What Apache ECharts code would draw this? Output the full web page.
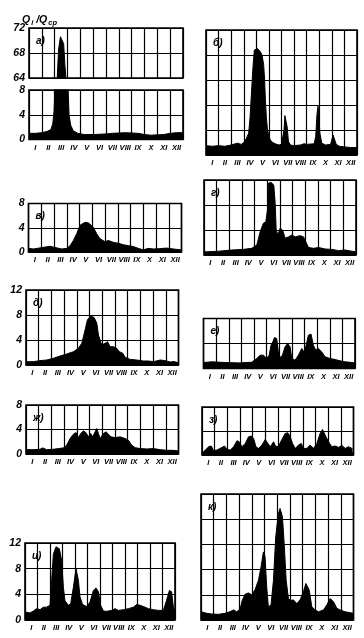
<!DOCTYPE html>
<html><head><meta charset="utf-8">
<script src="https://cdn.jsdelivr.net/npm/echarts@6/dist/echarts.min.js"></script>
<style>html,body{margin:0;padding:0;background:#fff}#c{width:364px;height:638px}</style>
</head><body><div id="c"></div>
<script>
const months = ['I','II','III','IV','V','VI','VII','VIII','IX','X','XI','XII'];
const letters = ['а)','б)','в)','г)','д)','е)','ж)','з)','и)','к)'];

// [month position (0..12), Qi/Qcp]
const dataA = [[0,1.0],[0.5,1.0],[1.0,1.1],[1.4,1.3],[1.7,1.6],[1.85,2.5],[1.95,4.5],[2.02,8],[2.12,30],[2.2,64],[2.3,68.5],[2.45,70.6],[2.6,70.8],[2.7,69.5],[2.8,66],[2.88,64],[2.96,30],[3.05,8],[3.12,4],[3.25,2.3],[3.45,1.4],[3.8,1.0],[4.3,0.8],[5,0.8],[5.5,0.85],[6,0.9],[6.5,1.0],[7,1.05],[7.5,1.1],[8,1.05],[8.5,1.0],[9,0.8],[9.5,0.7],[10,0.75],[10.5,0.8],[11,1.0],[11.5,1.1],[12,1.1]];
const dataB = [[0,1.5],[0.5,1.4],[1,1.5],[1.5,1.4],[2,1.6],[2.5,1.9],[2.8,1.7],[3.0,2.0],[3.2,2.6],[3.39,3.5],[3.5,6],[3.58,8.8],[3.73,14],[3.84,16.8],[3.97,17.1],[4.1,17.0],[4.3,16.6],[4.45,16.0],[4.58,14.5],[4.66,12],[4.72,8.8],[4.8,6],[4.88,4.2],[5.0,3.0],[5.11,2.4],[5.3,2.0],[5.5,1.8],[5.8,1.6],[6.0,1.7],[6.1,1.8],[6.2,4],[6.27,6.3],[6.35,6.4],[6.45,4.5],[6.55,2.2],[6.7,1.6],[7.0,1.5],[7.5,1.6],[7.8,1.8],[8.0,1.7],[8.6,1.8],[8.72,3],[8.82,6.5],[8.9,7.8],[8.97,6.5],[9.05,3.5],[9.2,1.9],[9.5,1.6],[9.9,1.7],[10.0,2.0],[10.1,3.2],[10.2,3.0],[10.35,1.7],[10.6,1.4],[11,1.3],[11.5,1.2],[12,1.2]];
const dataV = [[0,0.6],[0.39,0.5],[0.97,0.7],[1.7,0.95],[1.96,0.8],[2.61,0.5],[3.0,0.6],[3.26,1.05],[3.52,1.9],[3.78,3.0],[4.04,4.4],[4.43,4.9],[4.7,4.8],[5.09,4.1],[5.35,3.0],[5.61,2.2],[6.0,1.7],[6.26,1.9],[6.65,1.6],[7.04,1.45],[7.44,1.2],[7.83,1.05],[8.22,0.9],[8.61,0.6],[9.0,0.35],[9.39,0.6],[9.78,0.5],[10.3,0.55],[10.83,0.65],[11.35,0.5],[12,0.35]];
const dataG = [[0,0.5],[1.13,0.6],[2.19,0.8],[3.11,0.9],[3.77,1.07],[4.17,1.6],[4.43,3.7],[4.69,5.1],[4.88,5.3],[5.01,7.2],[5.09,11.5],[5.3,11.6],[5.51,11.2],[5.62,8.3],[5.7,4.0],[5.83,3.2],[6.01,4.3],[6.2,4.0],[6.41,2.7],[6.67,2.9],[6.94,3.2],[7.2,2.9],[7.59,3.1],[7.86,2.9],[8.04,2.1],[8.25,1.2],[8.65,1.07],[9.05,1.2],[9.57,0.96],[10.1,0.9],[10.63,0.7],[11.15,0.8],[11.55,0.65],[12,0.5]];
const dataD = [[0,0.53],[0.58,0.53],[1.1,0.7],[1.63,0.8],[2.15,1.07],[2.68,1.44],[3.2,1.76],[3.73,2.13],[4.12,2.67],[4.39,3.47],[4.65,5.6],[4.83,7.2],[5.09,7.84],[5.36,7.6],[5.57,6.7],[5.7,4.8],[5.96,3.2],[6.22,3.47],[6.41,3.73],[6.62,2.93],[6.88,2.93],[7.14,2.67],[7.35,2.13],[7.62,1.87],[7.8,1.23],[8.19,0.9],[8.72,0.8],[9.24,0.64],[9.64,0.64],[10.03,0.53],[10.56,0.8],[10.95,0.7],[11.34,0.48],[11.61,0.55],[12,0.37]];
const dataE = [[0,0.96],[0.66,1.07],[1.71,0.96],[2.77,0.9],[3.82,1.0],[4.22,1.6],[4.48,2.13],[4.75,2.13],[5.01,1.6],[5.2,2.13],[5.35,3.73],[5.49,4.27],[5.62,4.96],[5.8,4.8],[5.93,2.67],[6.07,1.76],[6.25,2.13],[6.46,3.47],[6.67,4.0],[6.86,3.47],[6.99,1.6],[7.25,1.33],[7.52,2.13],[7.78,3.2],[7.96,2.67],[8.1,3.47],[8.31,5.33],[8.52,5.5],[8.7,3.73],[8.89,2.93],[9.1,3.2],[9.36,2.67],[9.63,1.87],[10.02,1.6],[10.42,1.44],[10.81,1.23],[11.21,1.07],[11.6,1.0],[12,0.9]];
const dataZh = [[0,0.71],[0.58,0.71],[1.1,0.77],[1.31,1.0],[1.63,0.71],[2.15,0.77],[2.55,0.88],[2.94,1.0],[3.2,1.42],[3.47,2.52],[3.73,3.23],[3.94,3.5],[4.12,2.68],[4.31,3.34],[4.52,3.78],[4.73,3.45],[4.91,2.8],[5.09,3.34],[5.25,2.8],[5.44,3.62],[5.57,4.16],[5.7,3.34],[5.83,2.52],[6.09,3.34],[6.3,3.62],[6.49,3.23],[6.67,2.8],[7.01,2.68],[7.41,2.8],[7.8,2.52],[8.06,2.25],[8.32,1.42],[8.59,1.04],[8.98,0.88],[9.51,0.82],[10.03,0.88],[10.56,0.71],[11.08,0.6],[11.61,0.6],[12,0.49]];
const dataZ = [[0,0.28],[0.26,0.83],[0.53,1.38],[0.74,1.49],[0.92,0.72],[1.19,0.83],[1.58,1.27],[1.79,1.49],[1.98,0.94],[2.24,0.83],[2.51,1.38],[2.77,2.38],[2.95,2.2],[3.16,1.38],[3.43,1.93],[3.69,3.04],[3.9,3.15],[4.09,2.76],[4.27,1.38],[4.48,1.1],[4.75,1.66],[5.01,2.6],[5.22,1.93],[5.41,1.38],[5.67,2.2],[5.85,1.38],[6.07,1.49],[6.33,2.6],[6.59,3.6],[6.8,3.7],[6.99,3.04],[7.17,1.93],[7.38,1.1],[7.65,1.66],[7.86,1.93],[8.04,1.1],[8.31,1.1],[8.57,1.66],[8.83,1.1],[9.1,1.93],[9.36,3.6],[9.55,4.25],[9.76,3.3],[10.02,2.2],[10.28,1.38],[10.55,1.49],[10.81,1.27],[11.08,1.6],[11.34,1.1],[11.6,1.38],[11.87,1.1],[12,0.83]];
const dataI = [[0,1.25],[0.4,1.1],[0.67,1.4],[0.93,1.77],[1.2,1.6],[1.47,2.0],[1.73,2.0],[2.0,2.3],[2.13,6.2],[2.27,10.3],[2.48,11.4],[2.75,11.1],[2.93,9.3],[3.07,5.1],[3.2,3.0],[3.47,2.3],[3.65,2.5],[3.87,5.1],[4.08,8.0],[4.27,6.2],[4.4,3.6],[4.61,2.4],[4.93,2.1],[5.2,2.8],[5.47,4.6],[5.68,5.0],[5.87,4.4],[6.05,2.3],[6.27,1.4],[6.53,1.35],[6.93,1.5],[7.2,1.77],[7.47,1.5],[7.87,1.6],[8.27,1.77],[8.67,2.0],[8.93,2.4],[9.2,2.3],[9.47,2.1],[9.87,1.77],[10.27,1.6],[10.67,1.5],[11.07,1.5],[11.33,3.1],[11.55,4.6],[11.73,4.4],[11.87,2.0],[12,1.25]];
const dataK = [[0,1.32],[0.45,1.06],[0.84,0.95],[1.37,0.9],[1.89,1.06],[2.28,1.32],[2.55,1.6],[2.81,1.32],[3.07,1.7],[3.26,3.2],[3.47,4.1],[3.73,4.3],[3.99,4.0],[4.25,4.8],[4.52,6.3],[4.73,8.5],[4.91,10.8],[5.04,10.0],[5.17,5.3],[5.3,2.1],[5.51,2.4],[5.7,6.3],[5.88,13.2],[6.09,16.9],[6.22,17.7],[6.41,16.4],[6.56,11.6],[6.7,6.3],[6.88,3.4],[7.09,3.1],[7.27,3.2],[7.54,2.6],[7.8,3.2],[8.06,4.5],[8.25,5.8],[8.38,6.1],[8.51,4.8],[8.72,2.1],[8.98,1.6],[9.24,1.3],[9.64,1.6],[9.9,2.4],[10.16,3.4],[10.43,2.9],[10.69,1.85],[10.95,1.6],[11.34,1.3],[11.74,1.16],[12,1.06]];

const panels = [
  {data:dataA, letter:0, left:29, top:28, width:154, height:50, min:64, max:72, showY:true, showM:false},
  {data:dataA, letter:-1, left:29, top:90, width:154, height:49.5, min:0, max:8, showY:true, showM:true},
  {data:dataB, letter:1, left:206, top:30, width:151, height:125, min:0, max:20, showY:false, showM:true},
  {data:dataV, letter:2, left:28.5, top:203.5, width:153, height:48.5, min:0, max:8, showY:true, showM:true},
  {data:dataG, letter:3, left:204, top:180, width:152, height:75, min:0, max:12, showY:false, showM:true},
  {data:dataD, letter:4, left:26, top:290, width:152.5, height:75, min:0, max:12, showY:true, showM:true},
  {data:dataE, letter:5, left:203.5, top:318.5, width:151.5, height:50, min:0, max:8, showY:false, showM:true},
  {data:dataZh, letter:6, left:26, top:405, width:152.5, height:49, min:0, max:8, showY:true, showM:true},
  {data:dataZ, letter:7, left:202, top:407, width:151.5, height:48, min:0, max:8, showY:false, showM:true},
  {data:dataI, letter:8, left:25, top:543, width:150, height:77, min:0, max:12, showY:true, showM:true},
  {data:dataK, letter:9, left:201, top:494, width:152.5, height:126, min:0, max:20, showY:false, showM:true}
];

const FONT = '"Liberation Sans Narrow","Liberation Sans",sans-serif';
const grids = [], xAxes = [], yAxes = [], series = [], titles = [];
titles.push({
  left: 17, top: 8,
  text: '{q|Q}{s|i}{q| /Q}{s|ср}',
  textStyle: {rich: {
    q: {fontSize: 10.5, fontStyle: 'italic', fontWeight: 'bold', fontFamily: '"Liberation Sans",sans-serif', color: '#000'},
    s: {fontSize: 7.5, fontStyle: 'italic', fontWeight: 'bold', fontFamily: '"Liberation Sans",sans-serif', color: '#000', verticalAlign: 'bottom', padding: [6,0,0,1]}
  }}
});
panels.forEach((p, i) => {
  grids.push({left: p.left, top: p.top, width: p.width, height: p.height, show: true, borderColor: '#000', borderWidth: 1.6, backgroundColor: 'transparent'});
  xAxes.push({type: 'category', gridIndex: i, data: months, boundaryGap: true,
    axisLine: {show: false}, axisTick: {show: false},
    splitLine: {show: true, interval: 0, lineStyle: {color: '#000', width: 1.2}},
    axisLabel: {show: p.showM, interval: 0, margin: 4, fontSize: 7.5, fontStyle: 'italic', fontWeight: 'bold', fontFamily: FONT, color: '#000'}});
  xAxes.push({type: 'value', gridIndex: i, min: 0, max: 12, show: false});
  yAxes.push({type: 'value', gridIndex: i, min: p.min, max: p.max, interval: 4,
    axisLine: {show: false}, axisTick: {show: false},
    splitLine: {show: true, lineStyle: {color: '#000', width: 1.2}},
    axisLabel: {show: p.showY, margin: 4, fontSize: 10.5, fontStyle: 'italic', fontWeight: 'bold', fontFamily: '"Liberation Sans",sans-serif', color: '#000'}});
  series.push({type: 'line', xAxisIndex: 2 * i + 1, yAxisIndex: i, data: p.data, symbol: 'none', clip: true, silent: true,
    lineStyle: {color: '#000', width: 1}, areaStyle: {color: '#000', opacity: 1, origin: 'start'}});
  if (p.letter >= 0) {
    titles.push({left: p.left + 2, top: p.top + 3, text: letters[p.letter],
      textStyle: {fontSize: 10, fontStyle: 'italic', fontWeight: 'bold', fontFamily: '"Liberation Sans",sans-serif', color: '#000'}});
  }
});

const chart = echarts.init(document.getElementById('c'), null, {renderer: 'canvas'});
chart.setOption({animation: false, backgroundColor: '#fff', title: titles, grid: grids, xAxis: xAxes, yAxis: yAxes, series: series});
</script></body></html>
